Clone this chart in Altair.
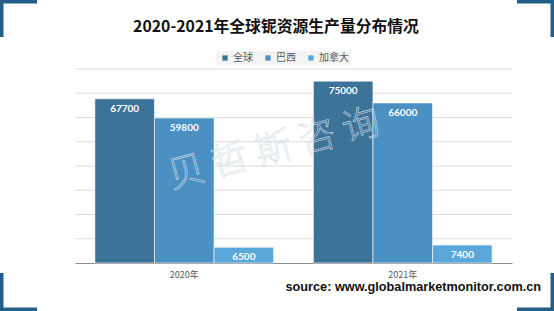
import altair as alt
import pandas as pd

years = ["2020年", "2021年"]
series = ["全球", "巴西", "加拿大"]
global_vals = [67700, 75000]
brazil_vals = [59800, 66000]
canada_vals = [6500, 7400]
grid_values = [10000, 20000, 30000, 40000, 50000, 60000, 70000, 80000]
colors = ["#3d7399", "#4a90c3", "#5aa7dc"]

rows = []
for s, vals in zip(series, [global_vals, brazil_vals, canada_vals]):
    for y, v in zip(years, vals):
        rows.append({"year": y, "series": s, "value": v})
df = pd.DataFrame(rows)

PL, PT, PR, PB = 75, 69, 42, 48
W, H = 437, 194
CJK = "Noto Sans CJK SC"
yscale = alt.Scale(domain=[0, 80000], nice=False)

grid = alt.Chart(pd.DataFrame({"g": grid_values})).mark_rule(color="#dcdcdc", strokeWidth=1).encode(
    y=alt.Y("g:Q", scale=yscale, axis=None))

x_enc = alt.X("year:N", sort=years, title=None,
              scale=alt.Scale(paddingInner=0.182, paddingOuter=0.091),
              axis=alt.Axis(labelAngle=0, labelFont=CJK, labelFontSize=9, labelColor="#595959",
                            ticks=False, domainColor="#8c8c8c", labelPadding=7, grid=False))
xo_enc = alt.XOffset("series:N", sort=series, scale=alt.Scale(paddingInner=0))
y_enc = alt.Y("value:Q", title=None, scale=yscale, axis=None)

bars = alt.Chart(df).mark_bar(stroke="white", strokeWidth=0.6).encode(
    x=x_enc, xOffset=xo_enc, y=y_enc,
    color=alt.Color("series:N", sort=series, title=None,
                    scale=alt.Scale(domain=series, range=colors),
                    legend=alt.Legend(orient="none", direction="horizontal", legendX=141, legendY=-18,
                                      symbolType="square", symbolSize=28, symbolStrokeWidth=0,
                                      labelFont=CJK, labelFontSize=10, labelColor="#595959",
                                      fillColor="#f4f4f4", padding=2, columnPadding=8,
                                      symbolOffset=2, labelOffset=3)),
)

labels = alt.Chart(df).mark_text(color="white", font="Lato", fontWeight="bold", fontSize=10,
                                 baseline="middle", dy=10).encode(
    x=alt.X("year:N", sort=years), xOffset=alt.XOffset("series:N", sort=series),
    y=alt.Y("value:Q", scale=yscale), text=alt.Text("value:Q", format="d"))

watermark = alt.Chart(pd.DataFrame({"t": ["贝 哲 斯 咨 询"]})).mark_text(
    font=CJK, fontSize=37, fontWeight=300, angle=345, fillOpacity=0,
    stroke="#cfdbe6", strokeWidth=0.6, baseline="middle", align="center").encode(
    x=alt.value(199), y=alt.value(81), text="t:N")

title = alt.Chart(pd.DataFrame({"t": ["2020-2021年全球铌资源生产量分布情况"]})).mark_text(
    font=CJK, fontSize=15.8, fontWeight="bold", color="#111111",
    align="center", baseline="middle").encode(
    x=alt.value(276 - PL), y=alt.value(27 - PT), text="t:N")

source = alt.Chart(pd.DataFrame({"t": ["source: www.globalmarketmonitor.com.cn"]})).mark_text(
    font="Liberation Sans", fontWeight="bold", fontSize=12.7, color="#111111",
    align="right", baseline="middle").encode(
    x=alt.value(541 - PL), y=alt.value(287 - PT), text="t:N")

cc = "#215f8c"
def rule(x1, x2, y1, y2, w):
    return alt.Chart(pd.DataFrame({"a": [0]})).mark_rule(color=cc, strokeWidth=w).encode(
        x=alt.value(x1 - PL), x2=alt.value(x2 - PL), y=alt.value(y1 - PT), y2=alt.value(y2 - PT))

corners = [
    rule(0, 37, 1.5, 1.5, 4), rule(1.5, 1.5, 0, 37, 4),
    rule(517, 554, 1.5, 1.5, 4), rule(552.5, 552.5, 0, 37, 4),
    rule(0, 37, 309.5, 309.5, 4), rule(1.5, 1.5, 273, 311, 4),
    rule(517, 554, 309.5, 309.5, 4), rule(552.5, 552.5, 273, 311, 4),
]

chart = alt.layer(grid, bars, labels, watermark, title, source, *corners).properties(
    width=W, height=H,
    padding={"left": PL, "top": PT, "right": PR, "bottom": PB},
    autosize="none",
    background="white",
).resolve_scale(y="shared").configure_view(stroke=None)

chart.save("out.html", embed_options={"renderer": "svg", "actions": False})
